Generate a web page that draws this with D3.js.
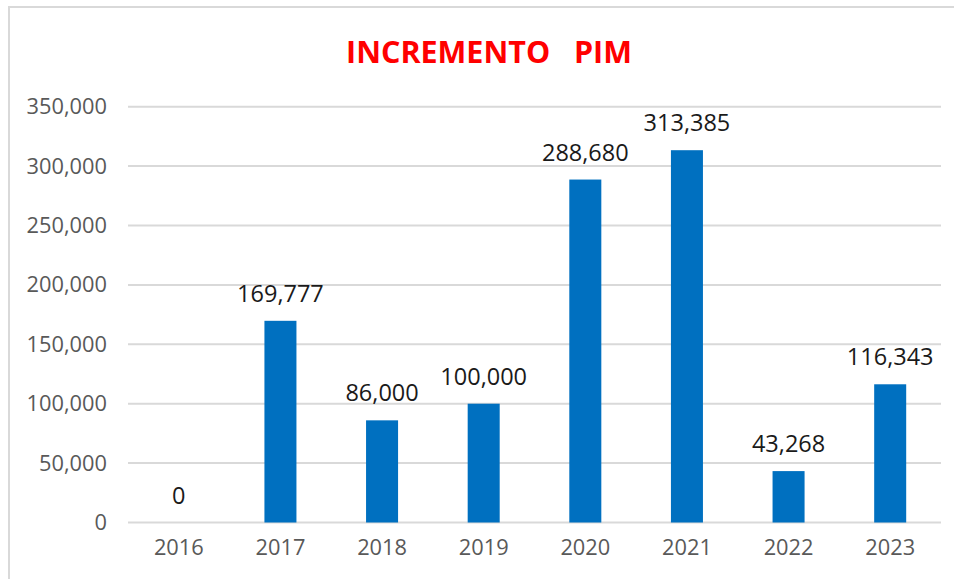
<!DOCTYPE html>
<html>
<head>
<meta charset="utf-8">
<script src="https://cdn.jsdelivr.net/npm/d3@7"></script>
<style>
  body { margin: 0; background: #fff; }
  svg { display: block; font-family: "Open Sans", sans-serif; }
</style>
</head>
<body>
<div id="chart"></div>
<script>
'use strict'
// data
var years = ["2016", "2017", "2018", "2019", "2020", "2021", "2022", "2023"];
var increments = [0, 169777, 86000, 100000, 288680, 313385, 43268, 116343];
var yTicks = [0, 50000, 100000, 150000, 200000, 250000, 300000, 350000];
var chartTitle = "INCREMENTO\u00a0\u00a0\u00a0PIM";

var W = 954, H = 579;
var plot = { left: 128, right: 941, top: 106.7, bottom: 522.5 };

var svg = d3.select("#chart").append("svg")
  .attr("width", W)
  .attr("height", H);

// chart area frame (only top/left visible in the picture)
svg.append("rect")
  .attr("x", 9).attr("y", 7)
  .attr("width", W + 10).attr("height", H + 10)
  .attr("fill", "#fff")
  .attr("stroke", "#d9d9d9")
  .attr("stroke-width", 2);

var x = d3.scaleBand()
  .domain(years)
  .range([plot.left, plot.right])
  .paddingInner(0.685)
  .paddingOuter(0.3425);

var y = d3.scaleLinear()
  .domain([0, 350000])
  .range([plot.bottom, plot.top]);

// gridlines
svg.append("g")
  .selectAll("line")
  .data(yTicks)
  .enter().append("line")
  .attr("x1", plot.left)
  .attr("x2", plot.right)
  .attr("y1", d => y(d))
  .attr("y2", d => y(d))
  .attr("stroke", "#d9d9d9")
  .attr("stroke-width", 2);

// y axis labels
var yAxis = d3.axisLeft(y)
  .tickValues(yTicks)
  .tickSize(0)
  .tickPadding(21)
  .tickFormat(d3.format(","));
svg.append("g")
  .attr("transform", `translate(${plot.left},0)`)
  .call(yAxis)
  .call(g => g.select(".domain").remove())
  .selectAll("text")
  .attr("fill", "#595959")
  .style("font-size", "21.8px")
  .style("font-family", "'Open Sans', sans-serif");

// x axis labels
var xAxis = d3.axisBottom(x).tickSize(0).tickPadding(17);
svg.append("g")
  .attr("transform", `translate(0,${plot.bottom})`)
  .call(xAxis)
  .call(g => g.select(".domain").remove())
  .selectAll("text")
  .attr("fill", "#595959")
  .style("font-size", "21.8px")
  .style("font-family", "'Open Sans', sans-serif");

// bars
svg.append("g")
  .selectAll("rect")
  .data(increments)
  .enter().append("rect")
  .attr("x", (d, i) => x(years[i]))
  .attr("y", d => y(d))
  .attr("width", x.bandwidth())
  .attr("height", d => plot.bottom - y(d))
  .attr("fill", "#0070c0");

// value labels
svg.append("g")
  .selectAll("text")
  .data(increments)
  .enter().append("text")
  .attr("x", (d, i) => x(years[i]) + x.bandwidth() / 2)
  .attr("y", d => y(d) - 19)
  .attr("text-anchor", "middle")
  .attr("fill", "#1a1a1a")
  .style("font-size", "23.5px")
  .text(d => d3.format(",")(d));

// title
svg.append("text")
  .attr("x", 489)
  .attr("y", 62.5)
  .attr("text-anchor", "middle")
  .attr("fill", "#ff0000")
  .style("font-size", "30.5px")
  .style("font-weight", "bold")
  .text(chartTitle);
</script>
</body>
</html>
